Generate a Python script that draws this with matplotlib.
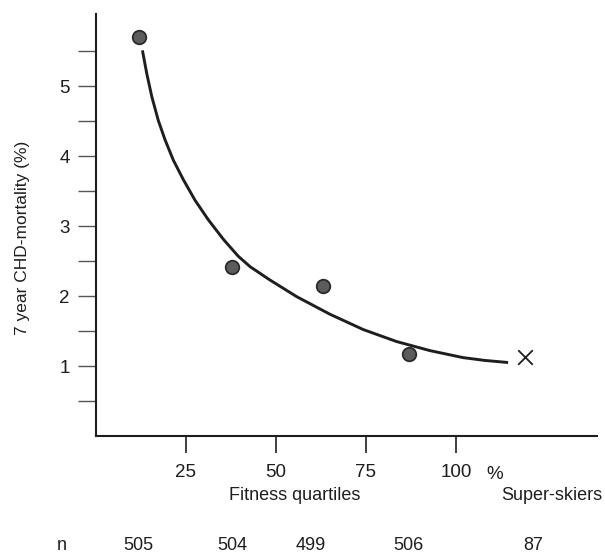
"""
7 year CHD mortality across fitness quartiles, with super-skiers.
"""

import matplotlib
matplotlib.use("Agg")
import matplotlib.pyplot as plt
from matplotlib.transforms import blended_transform_factory

plt.rcParams['font.family'] = ['Liberation Sans', 'DejaVu Sans']

# -------------------------
# Data
# -------------------------

quartile_x = [12.0, 37.8, 63.0, 87.0]
quartile_mortality = [5.70, 2.41, 2.14, 1.17]

skier_x = [119.2]
skier_mortality = [1.13]

# fitted curve, sampled along the drawn line
curve_x = [12.9, 14.1, 15.5, 17.3, 19.2, 21.5, 24.3, 27.5, 31.2, 35.4,
           39.5, 42.8, 48.3, 55.8, 65.0, 74.3, 83.5, 92.8, 102.0, 108.0,
           114.5]
curve_y = [5.51, 5.18, 4.85, 4.51, 4.23, 3.94, 3.66, 3.37, 3.09, 2.81,
           2.57, 2.42, 2.23, 1.99, 1.74, 1.52, 1.35, 1.22, 1.12, 1.08,
           1.05]

x_ticks = [25, 50, 75, 100]
y_ticks = [1, 2, 3, 4, 5]
y_minor = [0.5, 1.5, 2.5, 3.5, 4.5, 5.5]

n_labels = ["505", "504", "499", "506", "87"]
n_x = [11.7, 37.8, 59.7, 86.9, 121.4]

INK = "#1e1e1e"


def plot_chart():
    fig = plt.figure(figsize=(6.05, 5.52), dpi=100)
    ax = fig.add_axes([96 / 605, 116 / 552, 501 / 605, 422 / 552])

    ax.plot(curve_x, curve_y, color=INK, lw=2.1, solid_capstyle='butt',
            solid_joinstyle='round')
    ax.scatter(quartile_x, quartile_mortality, s=95, color="#5c5c5c",
               edgecolor="#2a2a2a", linewidth=1.3, zorder=3)
    ax.scatter(skier_x, skier_mortality, s=110, marker='x', color=INK,
               linewidth=1.3, zorder=3)

    ax.set_xlim(0, 139.2)
    ax.set_ylim(0, 6.03)

    for side in ("top", "right"):
        ax.spines[side].set_visible(False)
    for side in ("left", "bottom"):
        ax.spines[side].set_linewidth(1.5)
        ax.spines[side].set_color(INK)

    ax.set_xticks(x_ticks)
    ax.set_xticklabels([str(t) for t in x_ticks])
    ax.set_yticks(y_ticks)
    ax.set_yticklabels([str(t) for t in y_ticks])
    ax.set_yticks(y_minor, minor=True)

    ax.tick_params(axis='x', direction='out', length=12, width=1.2,
                   colors=INK, labelsize=13.5, pad=8)
    ax.tick_params(axis='y', which='both', direction='out', length=13,
                   width=1.0, colors="#555555", labelsize=13.5, pad=6,
                   labelcolor=INK)

    # "%" after the 100 tick label
    ax.text(110.8, -0.072, "%", transform=blended_transform_factory(
        ax.transData, ax.transAxes), ha='center', va='top',
        fontsize=13.5, color=INK)

    ax.set_ylabel("7 year CHD-mortality (%)", fontsize=12.5, color=INK)
    ax.yaxis.set_label_coords(-0.132, 0.469)

    fig.text(295 / 605, 1 - 495 / 552, "Fitness quartiles", ha='center',
             va='center', fontsize=13, color=INK)
    fig.text(552 / 605, 1 - 495 / 552, "Super-skiers", ha='center',
             va='center', fontsize=13, color=INK)

    row = blended_transform_factory(ax.transData, fig.transFigure)
    fig.text(62 / 605, 1 - 545 / 552, "n", ha='center', va='center',
             fontsize=13, color=INK)
    for label, x in zip(n_labels, n_x):
        ax.text(x, 1 - 545 / 552, label, transform=row, ha='center',
                va='center', fontsize=13, color=INK)

    fig.savefig("out.png", dpi=100)


def main():
    plot_chart()


if __name__ == "__main__":
    main()
